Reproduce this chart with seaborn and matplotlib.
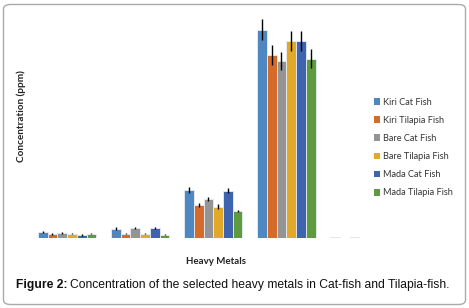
import matplotlib
matplotlib.use("Agg")
import matplotlib.pyplot as plt
from matplotlib.patches import FancyBboxPatch, Patch
import seaborn as sns
import pandas as pd

metals = ["Metal 1", "Metal 2", "Metal 3", "Metal 4", "Metal 5"]
series = ["Kiri Cat Fish", "Kiri Tilapia Fish", "Bare Cat Fish",
          "Bare Tilapia Fish", "Mada Cat Fish", "Mada Tilapia Fish"]
values = {
    "Kiri Cat Fish":     [5.5, 9.0, 47.5, 208.0, 0.4],
    "Kiri Tilapia Fish": [3.5, 4.0, 32.5, 182.5, 0.0],
    "Bare Cat Fish":     [4.5, 9.5, 38.5, 177.0, 0.4],
    "Bare Tilapia Fish": [4.0, 4.0, 31.0, 196.5, 0.0],
    "Mada Cat Fish":     [2.5, 9.5, 47.0, 196.5, 0.0],
    "Mada Tilapia Fish": [4.0, 3.0, 26.5, 179.0, 0.0],
}
errors = {
    "Kiri Cat Fish":     [1.0, 1.2, 2.7, 10.5, 0.0],
    "Kiri Tilapia Fish": [1.0, 0.6, 2.0, 9.7, 0.0],
    "Bare Cat Fish":     [1.0, 1.3, 2.3, 9.0, 0.0],
    "Bare Tilapia Fish": [0.6, 0.6, 2.2, 10.3, 0.0],
    "Mada Cat Fish":     [0.6, 1.2, 2.7, 10.3, 0.0],
    "Mada Tilapia Fish": [0.6, 0.6, 1.3, 9.3, 0.0],
}
colors = ["#4F88C0", "#D56B2A", "#949494", "#E2A82A", "#3E64AD", "#5F9A41"]

rows = []
for s in series:
    for m, v in zip(metals, values[s]):
        rows.append({"Metal": m, "Series": s, "Value": v})
df = pd.DataFrame(rows)

sns.set_style("white")
plt.rcParams["font.family"] = ["Lato", "DejaVu Sans"]

fig = plt.figure(figsize=(4.69, 3.08), dpi=100)
ax = fig.add_axes([30.5 / 469, 1 - 237.5 / 308, (396 - 30.5) / 469, 225 / 308])

sns.barplot(data=df, x="Metal", y="Value", hue="Series", order=metals,
            hue_order=series, palette=colors, errorbar=None, width=0.8,
            saturation=1, edgecolor="#E8EEF5", linewidth=0.6, ax=ax,
            legend=False)

for cont, s in zip(ax.containers, series):
    for bar, e in zip(cont, errors[s]):
        if e > 0:
            ax.errorbar(bar.get_x() + bar.get_width() / 2, bar.get_height(),
                        yerr=e, fmt="none", ecolor="black", elinewidth=1.0,
                        capsize=0)

ax.set_ylim(0, 225)
ax.set_xlim(-0.5, 4.5)
ax.set_xticks([])
ax.set_yticks([])
ax.set_xlabel("")
ax.set_ylabel("")
for sp in ax.spines.values():
    sp.set_visible(False)

handles = [Patch(facecolor=c, edgecolor="none") for c in colors]
leg = fig.legend(handles, series, loc="upper left",
                 bbox_to_anchor=(369 / 469, 1 - 93 / 308), frameon=False,
                 fontsize=6.6, handlelength=0.75, handleheight=0.75,
                 handletextpad=0.25, labelspacing=1.0, borderpad=0)
for t in leg.get_texts():
    t.set_color("#333333")

fig.text(21 / 469, 1 - 116 / 308, "Concentration (ppm)", rotation=90,
         ha="center", va="center", fontsize=7.2, fontweight="bold", color="#222222")
fig.text(216 / 469, 1 - 262 / 308, "Heavy Metals", ha="center", va="center",
         fontsize=7, fontweight="bold", color="#222222")

cap_y = 1 - 285 / 308
t1 = fig.text(16 / 469, cap_y, "Figure 2:", ha="left", va="center",
              fontsize=8.7, fontweight="bold", family="Liberation Sans", color="#111111")
fig.canvas.draw()
bb = t1.get_window_extent()
x2 = (bb.x1 + 3) / fig.bbox.width
fig.text(x2, cap_y, "Concentration of the selected heavy metals in Cat-fish and Tilapia-fish.",
         ha="left", va="center", fontsize=8.7, family="Liberation Sans", color="#111111")

border = FancyBboxPatch((3.5 / 469, 3.5 / 308), 462 / 469, 300 / 308,
                        boxstyle="round,pad=0,rounding_size=0.015",
                        transform=fig.transFigure, facecolor="none",
                        edgecolor="#AAAAAA", linewidth=1.0)
fig.patches.append(border)

fig.savefig("out.png", dpi=100)
